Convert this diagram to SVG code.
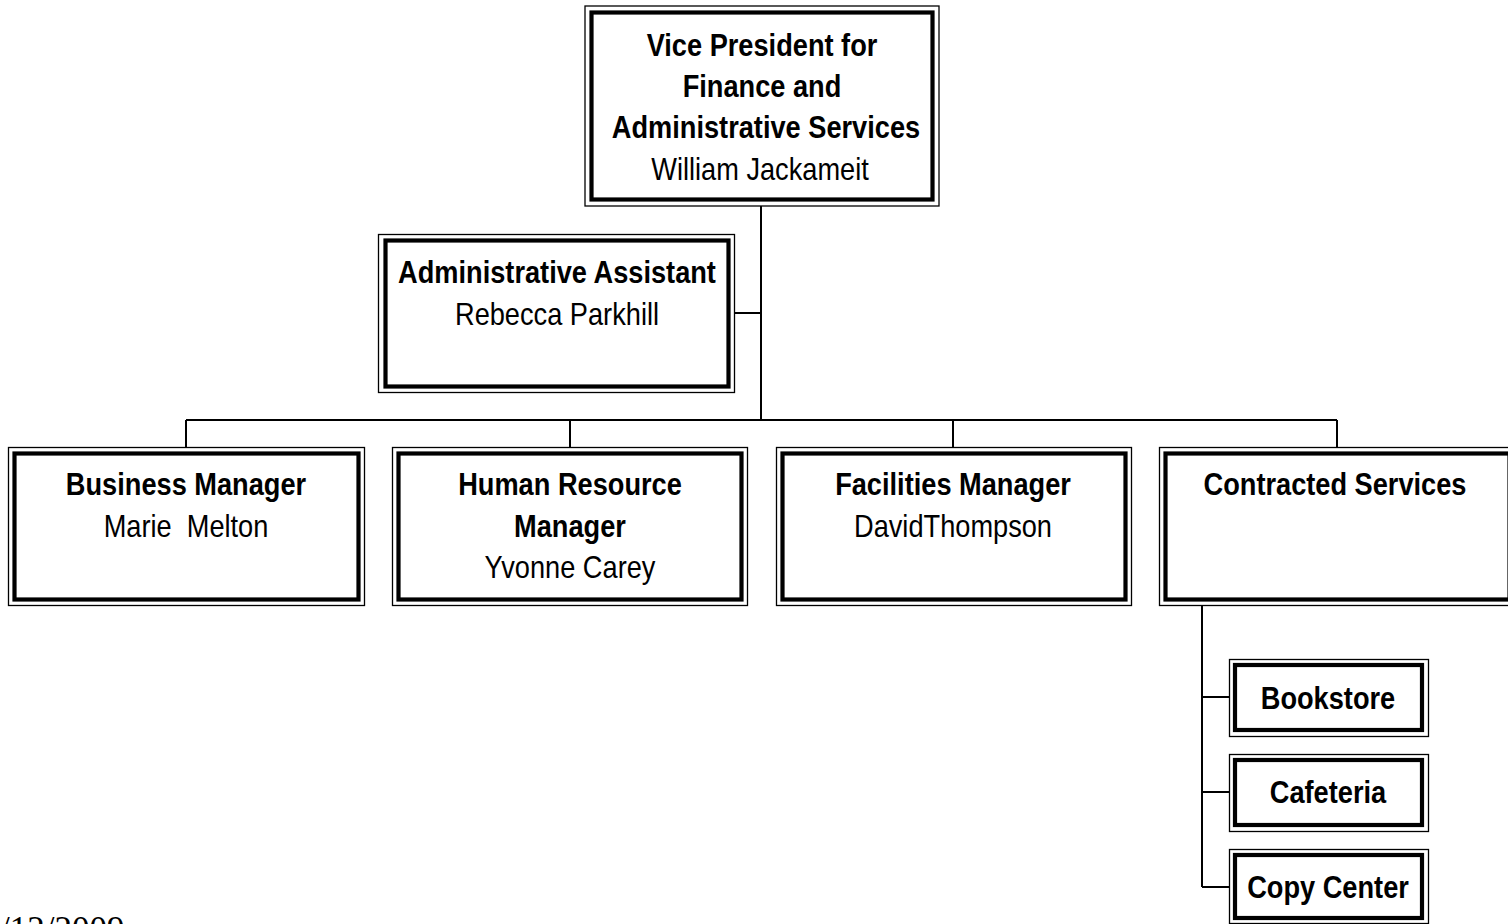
<svg xmlns="http://www.w3.org/2000/svg" width="1508" height="924" viewBox="0 0 1508 924">
<style>
.o{fill:#fff;stroke:#000;stroke-width:1.3}
.i{fill:none;stroke:#000;stroke-width:4.2}
.c{fill:none;stroke:#000;stroke-width:2}
text{font-family:"Liberation Sans",Arial,sans-serif;font-size:32px;fill:#000;text-anchor:middle}
.b{font-weight:bold}
.d{font-family:"Liberation Serif","Times New Roman",serif;font-size:35px;text-anchor:start}
</style>
<rect width="1508" height="924" fill="#fff"/>
<g id="connectors">
<path class="c" d="M761,206V420M735,313H761M186,420H1337M186,420V447M570,420V447M953,420V447M1337,420V447M1202,605V887M1202,697H1229M1202,792H1229M1202,887H1229"/>
</g>
<g id="vp">
<rect class="o" x="585" y="6" width="354" height="200"/>
<rect class="i" x="591.5" y="12.5" width="341" height="187"/>
<text class="b" transform="translate(762,56) scale(0.85,1)">Vice President for</text>
<text class="b" transform="translate(762,97) scale(0.85,1)">Finance and</text>
<text class="b" transform="translate(766,138) scale(0.85,1)">Administrative Services</text>
<text transform="translate(760,180) scale(0.85,1)">William Jackameit</text>
</g>
<g id="admin">
<rect class="o" x="378.5" y="234.5" width="356" height="158"/>
<rect class="i" x="385.5" y="240.5" width="343" height="146"/>
<text class="b" transform="translate(557,283) scale(0.85,1)">Administrative Assistant</text>
<text transform="translate(557,325) scale(0.85,1)">Rebecca Parkhill</text>
</g>
<g id="business">
<rect class="o" x="8.5" y="447.5" width="356" height="158"/>
<rect class="i" x="14.5" y="453.5" width="344" height="146"/>
<text class="b" transform="translate(186,495) scale(0.85,1)">Business Manager</text>
<text transform="translate(186,537) scale(0.85,1)" xml:space="preserve">Marie  Melton</text>
</g>
<g id="hr">
<rect class="o" x="392.5" y="447.5" width="355" height="158"/>
<rect class="i" x="398.5" y="453.5" width="343" height="146"/>
<text class="b" transform="translate(570,495) scale(0.85,1)">Human Resource</text>
<text class="b" transform="translate(570,537) scale(0.85,1)">Manager</text>
<text transform="translate(570,578) scale(0.85,1)">Yvonne Carey</text>
</g>
<g id="facilities">
<rect class="o" x="776.5" y="447.5" width="355" height="158"/>
<rect class="i" x="782.5" y="453.5" width="343" height="146"/>
<text class="b" transform="translate(953,495) scale(0.85,1)">Facilities Manager</text>
<text transform="translate(953,537) scale(0.85,1)">DavidThompson</text>
</g>
<g id="contracted">
<rect class="o" x="1159.5" y="447.5" width="356" height="158"/>
<rect class="i" x="1165.5" y="453.5" width="344" height="146"/>
<text class="b" transform="translate(1335,495) scale(0.85,1)">Contracted Services</text>
</g>
<g id="bookstore">
<rect class="o" x="1229.5" y="659.5" width="199" height="77"/>
<rect class="i" x="1235" y="665" width="187" height="65"/>
<text class="b" transform="translate(1328,709) scale(0.85,1)">Bookstore</text>
</g>
<g id="cafeteria">
<rect class="o" x="1229.5" y="754.5" width="199" height="77"/>
<rect class="i" x="1235" y="760" width="187" height="65"/>
<text class="b" transform="translate(1328,803) scale(0.85,1)">Cafeteria</text>
</g>
<g id="copycenter">
<rect class="o" x="1229.5" y="849.5" width="199" height="74"/>
<rect class="i" x="1235" y="855" width="187" height="63"/>
<text class="b" transform="translate(1328,898) scale(0.85,1)">Copy Center</text>
</g>
<text class="d" x="0" y="941">/12/2009</text>
</svg>
